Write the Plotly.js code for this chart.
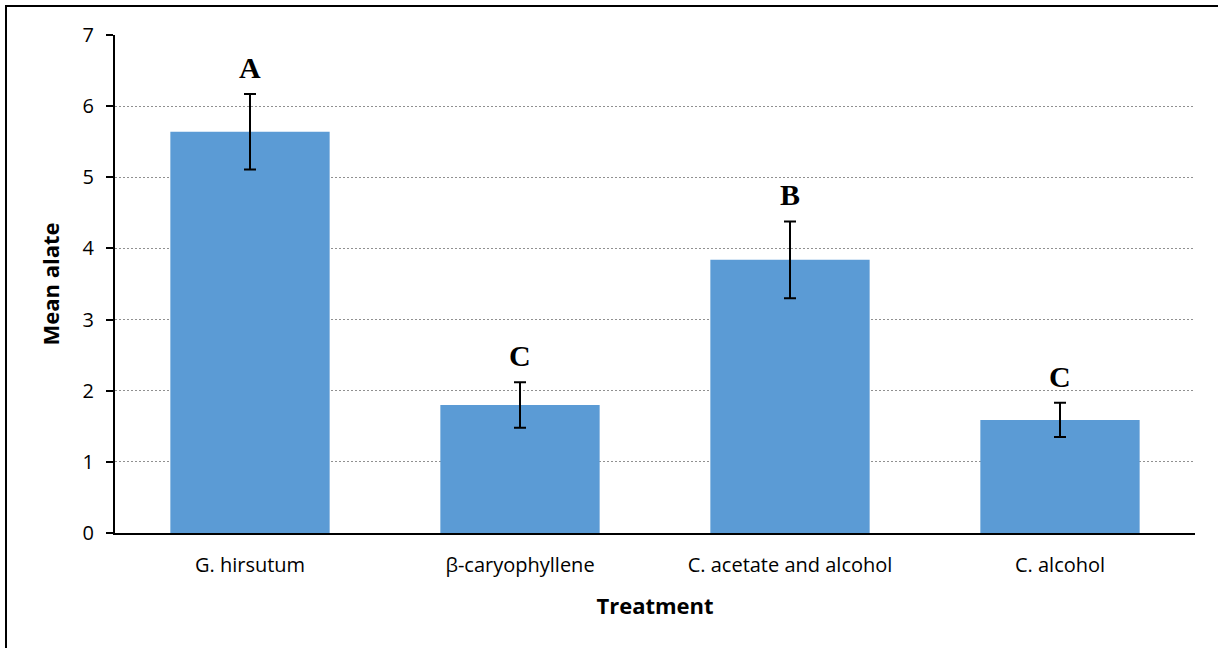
<!DOCTYPE html>
<html><head><meta charset="utf-8">
<script src="https://cdn.plot.ly/plotly-3.0.1.min.js"></script>
<style>
html,body{margin:0;padding:0;background:#fff;}
#wrap{position:relative;width:1218px;height:648px;}
#chart{width:1218px;height:648px;}
#frame{position:absolute;left:5px;top:5px;width:1213px;height:643px;border-left:2px solid #000;border-top:2px solid #000;pointer-events:none;}
</style></head>
<body>
<div id="wrap"><div id="chart"></div><div id="frame"></div></div>
<script>
const categories = ["G. hirsutum", "β-caryophyllene", "C. acetate and alcohol", "C. alcohol"];
const meanAlate = [5.64, 1.80, 3.84, 1.59];
const stdError = [0.53, 0.32, 0.54, 0.24];
const letters = ["A", "C", "B", "C"];
const yTicks = [0, 1, 2, 3, 4, 5, 6, 7];

const trace = {
  type: 'bar',
  x: categories,
  y: meanAlate,
  marker: {color: '#5B9BD5'},
  error_y: {type: 'data', array: stdError, visible: true, color: '#000', thickness: 2, width: 6},
  hoverinfo: 'none'
};

const annotations = categories.map((c, i) => ({
  x: c, y: meanAlate[i] + stdError[i], xref: 'x', yref: 'y',
  text: '<b>' + letters[i] + '</b>', showarrow: false, yanchor: 'bottom', yshift: 8,
  font: {family: 'Liberation Serif, DejaVu Serif, serif', size: 30, color: '#000'}
}));

const layout = {
  width: 1218, height: 648,
  margin: {l: 115, r: 23, t: 35, b: 115},
  paper_bgcolor: '#fff', plot_bgcolor: '#fff',
  bargap: 0.41,
  showlegend: false,
  font: {family: 'Open Sans, Noto Sans, sans-serif', color: '#000'},
  xaxis: {
    showline: true, linecolor: '#000', linewidth: 2,
    ticks: '', showgrid: false,
    ticklabelstandoff: 13,
    tickfont: {size: 20, color: '#000'},
    title: {text: '<b>Treatment</b>', font: {size: 22, color: '#000'}, standoff: 22}
  },
  yaxis: {
    range: [0, 7], tickvals: yTicks, ticktext: yTicks.map(String),
    showline: true, linecolor: '#000', linewidth: 2,
    ticks: 'outside', ticklen: 7, tickwidth: 2, tickcolor: '#000',
    ticklabelstandoff: 8,
    showgrid: true, gridcolor: '#909090', gridwidth: 1, griddash: '2px,2px',
    zeroline: false,
    tickfont: {size: 20, color: '#000'},
    title: {text: '<b>Mean alate</b>', font: {size: 22, color: '#000'}, standoff: 17}
  },
  annotations: annotations
};

Plotly.newPlot('chart', [trace], layout, {displayModeBar: false, staticPlot: true});
</script>
</body></html>
